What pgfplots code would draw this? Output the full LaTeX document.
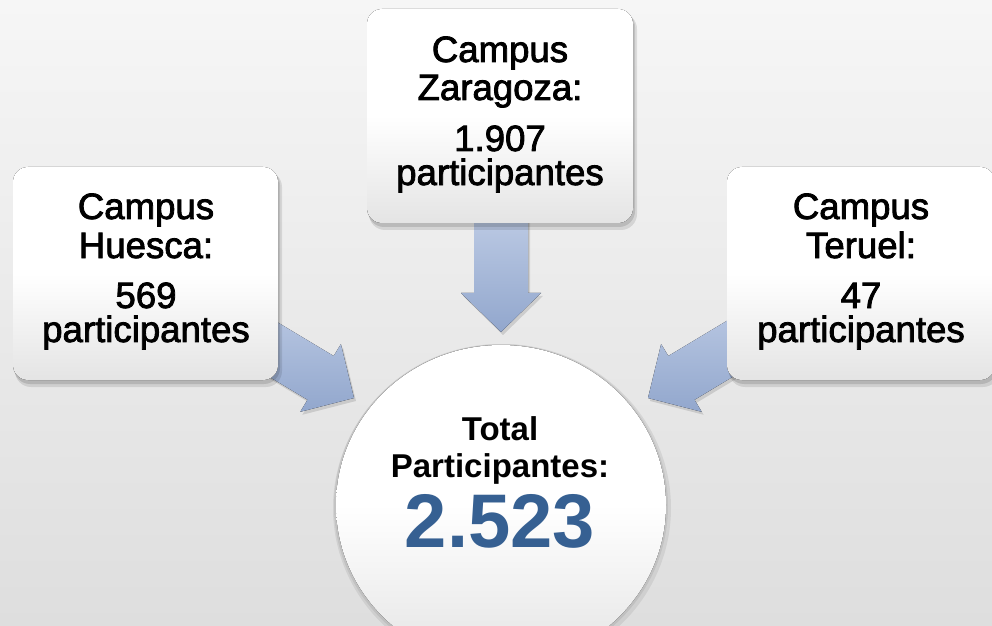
\documentclass[border=0pt]{standalone}
\usepackage{pgfplots}
\pgfplotsset{compat=1.18}
\usepackage{fontspec}
\setmainfont{Liberation Sans}
\newfontfamily\campusfam{Liberation Sans}[FakeBold=2.2]
\definecolor{bgTop}{RGB}{246,246,246}
\definecolor{bgBot}{RGB}{222,222,222}
\definecolor{arrTop}{RGB}{188,202,228}
\definecolor{arrBot}{RGB}{146,167,205}
\definecolor{boxBot}{RGB}{228,228,228}
\definecolor{totalBlue}{RGB}{54,96,146}

\newcommand{\campusfont}{\campusfam\fontsize{18.3}{22}\selectfont}
\newcommand{\totalfont}{\bfseries\fontsize{16.5}{20}\selectfont}
\newcommand{\bigfont}{\bfseries\fontsize{38}{44}\selectfont}

\begin{document}
\begin{tikzpicture}
\begin{axis}[
    width=496pt, height=313pt,
    scale only axis,
    hide axis,
    xmin=0, xmax=992,
    ymin=0, ymax=626,
    y dir=reverse,
]
% background
\fill[top color=bgTop, bottom color=bgBot] (axis cs:0,0) rectangle (axis cs:992,626);

% total circle
\fill[black, opacity=0.07] (axis cs:502,508) ellipse [x radius=169, y radius=164];
\fill[black, opacity=0.07] (axis cs:501,506) ellipse [x radius=167, y radius=162];
\fill[top color=white, bottom color=boxBot, middle color=white] (axis cs:501,505) ellipse [x radius=165, y radius=160];

% arrow shadows
\fill[black, opacity=0.12]
    (axis cs:476,217) -- (axis cs:530,217) -- (axis cs:530,296) -- (axis cs:543,296)
    -- (axis cs:503,335) -- (axis cs:463,296) -- (axis cs:476,296) -- cycle;
\fill[black, opacity=0.12]
    (axis cs:241.4,302.4) -- (axis cs:335.7,359.0) -- (axis cs:342.9,347.1)
    -- (axis cs:356,401) -- (axis cs:302.3,414.8) -- (axis cs:309.5,402.8)
    -- (axis cs:215.2,346.2) -- cycle;
\fill[black, opacity=0.12]
    (axis cs:764.6,302.4) -- (axis cs:670.3,359.0) -- (axis cs:663.1,347.1)
    -- (axis cs:650,401) -- (axis cs:703.7,414.8) -- (axis cs:696.5,402.8)
    -- (axis cs:790.8,346.2) -- cycle;

% arrows (tails go under the boxes)
\fill[top color=arrTop, bottom color=arrBot]
    (axis cs:474,215) -- (axis cs:528,215) -- (axis cs:528,293) -- (axis cs:541,293)
    -- (axis cs:501,332) -- (axis cs:461,293) -- (axis cs:474,293) -- cycle;
\fill[top color=arrTop, bottom color=arrBot]
    (axis cs:239.4,299.4) -- (axis cs:333.7,356.0) -- (axis cs:340.9,344.1)
    -- (axis cs:354,398) -- (axis cs:300.3,411.8) -- (axis cs:307.5,399.8)
    -- (axis cs:213.2,343.2) -- cycle;
\fill[top color=arrTop, bottom color=arrBot]
    (axis cs:762.6,299.4) -- (axis cs:668.3,356.0) -- (axis cs:661.1,344.1)
    -- (axis cs:648,398) -- (axis cs:701.7,411.8) -- (axis cs:694.5,399.8)
    -- (axis cs:788.8,343.2) -- cycle;

% campus boxes with soft shadows
\fill[black, opacity=0.10, rounded corners=8pt] (axis cs:15,171) rectangle (axis cs:282,387);
\fill[black, opacity=0.12, rounded corners=8pt] (axis cs:14,169) rectangle (axis cs:280,384);
\fill[top color=white, bottom color=boxBot, middle color=white, rounded corners=7.5pt]
    (axis cs:13,167) rectangle (axis cs:278,380);

\fill[black, opacity=0.10, rounded corners=8pt] (axis cs:369,13) rectangle (axis cs:637,230);
\fill[black, opacity=0.12, rounded corners=8pt] (axis cs:368,11) rectangle (axis cs:635,227);
\fill[top color=white, bottom color=boxBot, middle color=white, rounded corners=7.5pt]
    (axis cs:367,9) rectangle (axis cs:633,223);

\fill[black, opacity=0.10, rounded corners=8pt] (axis cs:729,171) rectangle (axis cs:999,387);
\fill[black, opacity=0.12, rounded corners=8pt] (axis cs:728,169) rectangle (axis cs:997,384);
\fill[top color=white, bottom color=boxBot, middle color=white, rounded corners=7.5pt]
    (axis cs:727,167) rectangle (axis cs:995,380);

% texts
\node[anchor=base, font=\campusfont] at (axis cs:146,219) {Campus};
\node[anchor=base, font=\campusfont] at (axis cs:146,258) {Huesca:};
\node[anchor=base, font=\campusfont] at (axis cs:146,308) {569};
\node[anchor=base, font=\campusfont] at (axis cs:146,342) {participantes};

\node[anchor=base, font=\campusfont] at (axis cs:500,62) {Campus};
\node[anchor=base, font=\campusfont] at (axis cs:500,100) {Zaragoza:};
\node[anchor=base, font=\campusfont] at (axis cs:500,151) {1.907};
\node[anchor=base, font=\campusfont] at (axis cs:500,185) {participantes};

\node[anchor=base, font=\campusfont] at (axis cs:861,219) {Campus};
\node[anchor=base, font=\campusfont] at (axis cs:861,258) {Teruel:};
\node[anchor=base, font=\campusfont] at (axis cs:861,308) {47};
\node[anchor=base, font=\campusfont] at (axis cs:861,342) {participantes};

\node[anchor=base, font=\totalfont] at (axis cs:500,440) {Total};
\node[anchor=base, font=\totalfont] at (axis cs:500,477) {Participantes:};
\node[anchor=base, font=\bigfont, text=totalBlue] at (axis cs:500,547) {2.523};
\end{axis}
\pgfresetboundingbox
\path[use as bounding box] (current axis.south west) rectangle (current axis.north east);
\end{tikzpicture}
\end{document}
